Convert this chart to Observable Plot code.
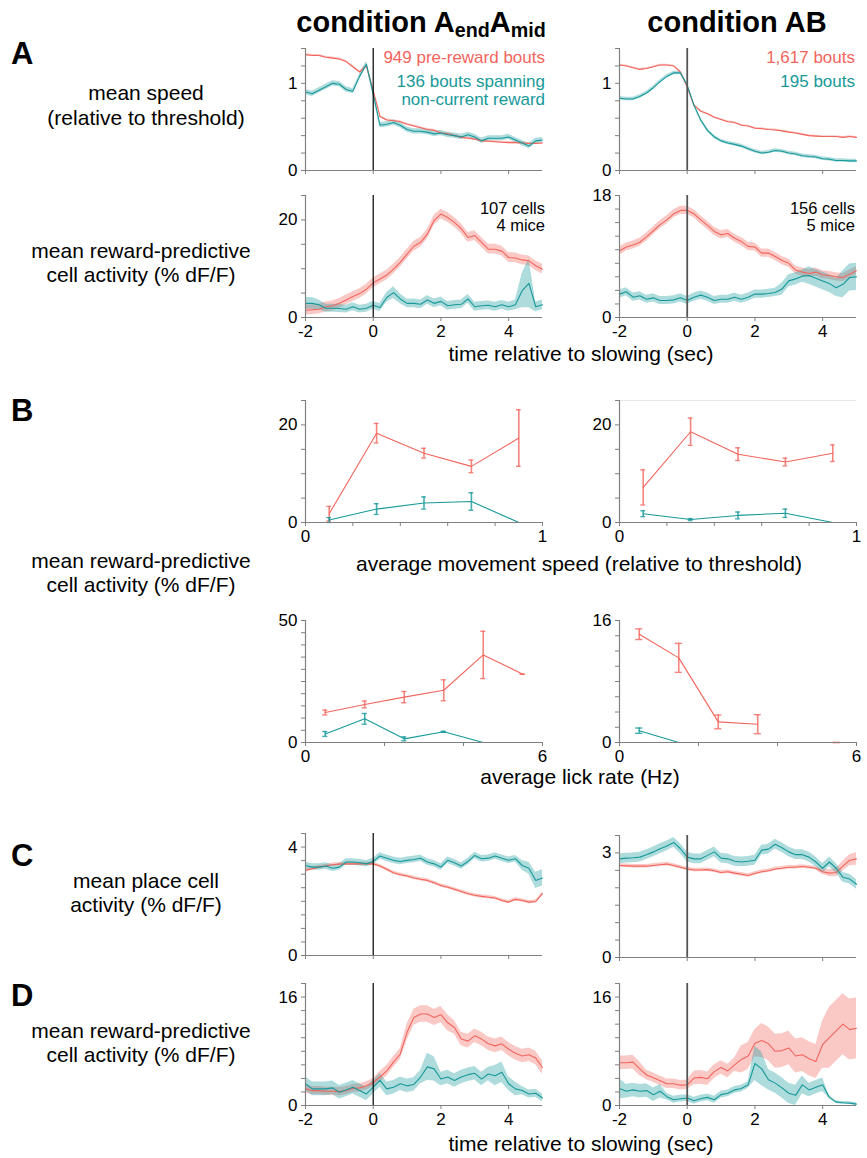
<!DOCTYPE html>
<html><head><meta charset="utf-8">
<script src="https://cdn.jsdelivr.net/npm/d3@7"></script>
<script src="https://cdn.jsdelivr.net/npm/@observablehq/plot@0.6"></script>
<style>
body{margin:0;background:#fff;}
#fig{position:relative;width:867px;height:1158px;font-family:"Liberation Sans",Arial,Helvetica,sans-serif;color:#000;overflow:hidden;background:#fff;}
.t{position:absolute;white-space:nowrap;line-height:1;}
.t sub{font-size:0.68em;vertical-align:-0.3em;line-height:0;}
</style></head><body><div id="fig"></div>
<script>
// ---------- time axis (sec relative to slowing) ----------
const T = [-2,-1.8,-1.6,-1.4,-1.2,-1,-0.8,-0.6,-0.4,-0.2,0,0.2,0.4,0.6,0.8,1,1.2,1.4,1.6,1.8,2,2.2,2.4,2.6,2.8,3,3.2,3.4,3.6,3.8,4,4.2,4.4,4.6,4.8,5];

// ---------- A: mean speed ----------
const A1L_red  = [1.33,1.32,1.32,1.30,1.29,1.28,1.25,1.19,1.13,1.20,0.92,0.62,0.58,0.57,0.56,0.53,0.51,0.49,0.47,0.46,0.43,0.42,0.40,0.38,0.37,0.36,0.34,0.335,0.33,0.325,0.32,0.32,0.315,0.31,0.31,0.315];
const A1L_teal = [0.90,0.88,0.92,0.96,1.00,0.99,0.93,0.91,1.08,1.22,0.88,0.52,0.53,0.55,0.52,0.47,0.45,0.45,0.44,0.42,0.43,0.41,0.40,0.385,0.41,0.385,0.34,0.37,0.37,0.37,0.385,0.35,0.315,0.28,0.34,0.35];
const A1R_red  = [1.21,1.20,1.18,1.16,1.17,1.19,1.21,1.21,1.20,1.13,0.96,0.75,0.68,0.65,0.61,0.585,0.56,0.55,0.52,0.51,0.485,0.48,0.47,0.465,0.455,0.44,0.43,0.415,0.40,0.395,0.39,0.39,0.39,0.38,0.39,0.38];
const A1R_teal = [0.83,0.82,0.82,0.85,0.89,0.95,1.02,1.08,1.12,1.12,0.98,0.75,0.58,0.46,0.385,0.34,0.315,0.30,0.28,0.25,0.22,0.20,0.21,0.23,0.22,0.20,0.19,0.17,0.16,0.155,0.135,0.13,0.115,0.115,0.11,0.11];
const A1L_red_se = 0.012, A1L_teal_se = 0.03, A1R_red_se = 0.01, A1R_teal_se = 0.02;

// ---------- A: reward-predictive cell activity ----------
const A2L_red  = [1.5,1.6,1.7,2.2,2.4,2.9,3.6,4.3,4.9,5.8,7.1,7.9,8.7,9.9,11.3,13.0,14.6,15.4,17.1,19.9,21.2,20.5,19.5,18.2,16.4,16.8,15.4,14.0,14.0,13.6,12.3,12.2,11.8,11.6,10.6,9.9];
const A2L_teal = [2.9,2.9,2.6,1.9,1.9,1.85,1.7,2.2,1.7,1.9,2.5,2.05,4.1,5.1,3.8,2.9,2.9,2.7,3.6,2.9,3.3,2.4,2.6,2.7,3.8,2.2,2.4,2.5,2.2,2.6,2.2,2.6,5.5,7.0,2.2,2.6];
const A2L_red_se = 1.0;
const A2L_teal_se = [1.2,1.2,1.0,0.8,0.8,0.8,0.8,0.8,0.8,0.8,0.8,0.8,1.0,1.2,1.0,0.9,0.9,0.9,0.9,0.9,0.9,0.9,0.9,0.9,0.9,0.9,0.9,0.9,0.9,0.9,0.9,1.0,3.5,5.0,1.0,1.0];
const A2R_red  = [9.8,10.4,10.7,11.1,11.9,12.8,13.7,14.4,15.3,15.8,15.8,15.3,14.4,13.6,12.7,12.2,12.4,11.7,11.2,10.5,10.4,9.5,9.5,9.0,8.4,8.0,7.0,6.7,6.5,6.7,6.3,6.2,6.0,5.9,6.4,6.9];
const A2R_teal = [3.45,3.8,3.0,3.2,2.7,2.9,2.5,2.5,2.6,2.9,2.5,3.0,3.3,3.0,2.5,2.7,2.7,3.0,2.7,3.0,3.45,3.45,3.55,3.7,4.2,5.4,5.7,6.1,6.2,5.8,5.4,5.0,4.4,4.9,5.9,6.0];
const A2R_red_se = 0.6;
const A2R_teal_se = [0.6,0.6,0.6,0.6,0.6,0.6,0.6,0.6,0.6,0.6,0.6,0.6,0.6,0.6,0.6,0.6,0.6,0.6,0.6,0.6,0.6,0.6,0.6,0.6,0.9,0.9,0.9,0.9,1.3,1.3,1.3,1.3,1.3,2.0,2.0,2.0];

// ---------- B: binned activity vs speed / lick rate ----------
const speedBins = [0.1,0.3,0.5,0.7,0.9];
const B1L_red = [1.8,18.3,14.2,11.5,17.3], B1L_red_err = [1.5,2.0,1.0,1.3,5.8];
const B1L_teal = [0.5,2.75,4.0,4.3,0], B1L_teal_err = [0.5,1.1,1.25,1.8,null];
const B1R_red = [7.2,18.6,14.0,12.4,14.2], B1R_red_err = [3.6,2.8,1.3,0.8,1.7];
const B1R_teal = [1.8,0.6,1.45,1.9,0], B1R_teal_err = [0.6,0.2,0.7,0.85,null];
const lickBins = [0.5,1.5,2.5,3.5,4.5,5.5];
const B2L_red = [12.3,15.6,18.6,21.4,35.9,28.0], B2L_red_err = [1.0,1.4,2.3,4.3,9.7,0];
const B2L_teal = [3.5,9.7,1.5,4.4,0,null], B2L_teal_err = [1.0,2.2,0.8,0.2,null,null];
const B2R_red = [14.2,11.1,2.7,2.4,null,0], B2R_red_err = [0.7,1.9,0.9,1.25,null,0];
const B2R_teal = [1.55,0,0,null,null,null], B2R_teal_err = [0.35,null,null,null,null,null];

// ---------- C: place cell activity ----------
const CL_red  = [3.14,3.20,3.26,3.30,3.35,3.37,3.38,3.38,3.38,3.38,3.38,3.30,3.18,3.05,2.98,2.93,2.86,2.81,2.77,2.68,2.58,2.52,2.44,2.36,2.28,2.22,2.18,2.15,2.12,2.03,1.97,2.07,2.03,1.97,1.99,2.28];
const CL_teal = [3.32,3.26,3.26,3.30,3.22,3.26,3.45,3.45,3.42,3.38,3.47,3.67,3.59,3.51,3.47,3.51,3.54,3.59,3.45,3.38,3.26,3.51,3.42,3.30,3.47,3.69,3.57,3.59,3.67,3.59,3.51,3.57,3.32,3.22,2.77,2.86];
const CL_red_se = 0.06;
const CL_teal_se = [0.12,0.12,0.12,0.12,0.12,0.12,0.12,0.12,0.12,0.12,0.12,0.12,0.12,0.12,0.12,0.12,0.12,0.12,0.12,0.12,0.12,0.12,0.12,0.12,0.12,0.12,0.12,0.12,0.12,0.12,0.12,0.12,0.18,0.22,0.3,0.3];
const CR_red  = [2.64,2.63,2.62,2.62,2.62,2.64,2.66,2.68,2.64,2.59,2.54,2.51,2.51,2.52,2.49,2.44,2.46,2.42,2.39,2.35,2.41,2.46,2.49,2.54,2.56,2.59,2.59,2.61,2.59,2.56,2.46,2.42,2.44,2.62,2.79,2.83];
const CR_teal = [2.83,2.85,2.86,2.88,2.95,3.03,3.12,3.20,3.30,3.12,2.88,2.83,2.83,2.93,3.03,2.85,2.83,2.76,2.74,2.76,2.79,3.08,3.11,3.25,3.15,3.03,2.95,2.95,2.88,2.74,2.56,2.74,2.56,2.30,2.25,2.10];
const CR_red_se = [0.05,0.05,0.05,0.05,0.05,0.05,0.05,0.05,0.05,0.05,0.05,0.05,0.05,0.05,0.05,0.05,0.05,0.05,0.05,0.05,0.05,0.05,0.05,0.05,0.05,0.05,0.05,0.05,0.05,0.05,0.08,0.1,0.12,0.14,0.16,0.18];
const CR_teal_se = 0.14;

// ---------- D: reward-predictive cell activity ----------
const DL_red  = [2.45,2.2,2.2,2.1,2.1,2.05,2.2,2.5,2.6,2.9,3.4,4.2,5.1,6.4,7.6,10.8,13.0,13.5,13.5,13.0,13.4,12.2,11.5,9.8,9.5,10.3,9.8,9.1,8.8,9.1,8.3,7.7,7.3,7.5,7.0,5.6];
const DL_teal = [3.2,2.45,2.45,2.45,2.6,1.95,2.3,2.7,2.2,1.7,2.7,3.7,2.45,2.7,3.2,2.9,3.1,4.2,5.7,5.4,3.9,4.2,3.7,4.2,4.55,4.75,3.9,4.65,4.4,4.9,3.2,2.45,2.2,1.7,1.8,1.1];
const DL_red_se = [0.6,0.6,0.6,0.6,0.6,0.6,0.6,0.6,0.6,0.6,0.6,0.8,0.8,0.8,0.8,1.2,1.2,1.2,1.2,1.2,1.2,1.2,1.0,1.0,1.0,1.0,1.0,1.0,1.0,1.0,1.0,1.0,1.0,1.0,1.0,1.0];
const DL_teal_se = [1.0,1.0,1.0,1.0,1.0,1.0,1.0,1.0,1.0,1.0,1.0,1.0,1.0,1.0,1.0,1.0,1.0,1.0,2.0,1.8,1.0,1.0,1.0,1.0,1.0,1.0,1.0,1.0,1.5,1.5,1.0,1.0,0.6,0.6,0.6,0.6];
const DR_red  = [6.3,6.3,6.4,5.4,4.5,4.1,3.65,3.2,3.2,3.0,3.05,4.05,4.15,3.95,5.0,5.6,5.1,6.0,6.8,7.3,9.2,9.6,9.1,8.0,8.1,8.5,7.3,7.5,6.9,6.5,9.0,10.0,11.0,12.0,11.2,11.4];
const DR_teal = [2.5,2.1,2.3,2.1,2.2,1.6,2.1,1.3,0.85,1.0,1.1,0.7,1.0,1.2,0.85,1.6,1.8,2.3,2.5,3.05,6.2,5.4,3.8,3.3,2.6,1.8,1.5,3.05,2.3,2.7,3.05,1.2,0.5,0.4,0.35,0.2];
const DR_red_se = [1.0,1.0,1.0,1.0,0.7,0.7,0.7,0.7,0.7,0.7,0.7,1.0,1.0,1.0,1.0,1.0,1.0,1.0,2.0,2.0,2.0,2.5,2.5,2.5,2.5,2.5,2.5,2.5,2.5,2.5,3.5,4.5,4.5,4.5,4.5,4.5];
const DR_teal_se = [1.5,1.0,1.0,1.0,1.0,1.0,1.0,0.5,0.5,0.5,0.5,0.5,0.5,0.5,0.5,0.5,0.5,0.5,0.5,0.5,2.5,2.5,1.5,1.5,1.5,1.5,1.5,1.3,1.0,1.0,1.0,0.2,0.2,0.2,0.2,0.2];

// ---------- ticks ----------
const timeTicks = [-2,0,2,4], timeLabels = [-2,0,2,4];
const speedTicks = [0,0.2,0.4,0.6,0.8,1], speedLabels = [0,1];
const lickTicks = [0,2,4,6], lickLabels = [0,6];
const ticksA1 = [0,0.2,0.4,0.6,0.8,1,1.2,1.4], labelsA1 = [0,1];
const ticks5to25 = [0,5,10,15,20,25], labels0_20 = [0,20];
const ticks2to18 = [0,2,4,6,8,10,12,14,16,18], labels0_18 = [0,18], labels0_16 = [0,16];
const ticks5to50 = [0,5,10,15,20,25,30,35,40,45,50], labels0_50 = [0,50];
const ticks2to16 = [0,2,4,6,8,10,12,14,16];
const ticksCL = [0,0.5,1,1.5,2,2.5,3,3.5,4,4.5], labelsCL = [0,4];
const ticksCR = [0,0.5,1,1.5,2,2.5,3,3.5], labelsCR = [0,3];

// ---------- styling ----------
const RED = "#f2655d", TEAL = "#17999a", AX = "#808080";
const FONT = '"Liberation Sans", Arial, Helvetica, sans-serif';
const PW = 237, PH = 122, ML = 42, MR = 14, MT = 10, MB = 30;
const fig = document.getElementById("fig");

function series(t, v, e) {
  return t.map((x, i) => {
    const s = Array.isArray(e) ? e[i] : e;
    return {t: x, v: v[i], lo: v[i] - s, hi: v[i] + s};
  });
}
function pts(x, v, e) {
  return x.map((d, i) => ({x: d, v: v[i], e: e[i]}));
}
const fmt = labels => d => labels.includes(d) ? String(d) : "";

function makePlot(cfg, marks, left, top) {
  const svg = Plot.plot({
    width: ML + PW + MR, height: MT + PH + MB,
    marginLeft: ML, marginRight: MR, marginTop: MT, marginBottom: MB,
    x: {domain: cfg.xd}, y: {domain: cfg.yd},
    style: {fontSize: "17px", fontFamily: FONT, background: "none", overflow: "visible", color: "#000"},
    marks: [
      ...marks,
      Plot.ruleY([cfg.yd[0]], {stroke: AX, strokeWidth: 1.2}),
      Plot.ruleX([cfg.xd[0]], {stroke: AX, strokeWidth: 1.2}),
      Plot.axisX({ticks: cfg.xt, tickFormat: fmt(cfg.xl), tickSize: 4, tickPadding: 3, stroke: AX, fill: "#000", label: null}),
      Plot.axisY({ticks: cfg.yt, tickFormat: fmt(cfg.yl), tickSize: 4, tickPadding: 4, stroke: AX, fill: "#000", label: null})
    ]
  });
  svg.style.position = "absolute";
  svg.style.left = (left - ML) + "px";
  svg.style.top = (top - MT) + "px";
  svg.style.maxWidth = "none";
  fig.appendChild(svg);
}

function tsPanel(cfg, red, teal, left, top, vcol) {
  const marks = [
    Plot.areaY(red, {x: "t", y1: "lo", y2: "hi", fill: RED, fillOpacity: 0.35}),
    Plot.areaY(teal, {x: "t", y1: "lo", y2: "hi", fill: TEAL, fillOpacity: 0.35}),
    Plot.lineY(red, {x: "t", y: "v", stroke: RED, strokeWidth: 1.1}),
    Plot.lineY(teal, {x: "t", y: "v", stroke: TEAL, strokeWidth: 1.1}),
    Plot.ruleX([0], {stroke: vcol, strokeWidth: vcol === "#000" ? 1.2 : 1.8})
  ];
  makePlot(cfg, marks, left, top);
}

function errPanel(cfg, red, teal, cw, left, top, extra = []) {
  const m = [];
  for (const [data, col] of [[red, RED], [teal, TEAL]]) {
    const eb = data.filter(d => d.e != null && d.v != null);
    m.push(Plot.lineY(data, {x: "x", y: "v", stroke: col, strokeWidth: 1.1}));
    m.push(Plot.ruleX(eb, {x: "x", y1: d => d.v - d.e, y2: d => d.v + d.e, stroke: col, strokeWidth: 1.6, strokeOpacity: 0.8}));
    m.push(Plot.ruleY(eb, {y: d => d.v - d.e, x1: d => d.x - cw, x2: d => d.x + cw, stroke: col, strokeWidth: 1.4, strokeOpacity: 0.8}));
    m.push(Plot.ruleY(eb, {y: d => d.v + d.e, x1: d => d.x - cw, x2: d => d.x + cw, stroke: col, strokeWidth: 1.4, strokeOpacity: 0.8}));
  }
  makePlot(cfg, [...extra, ...m], left, top);
}

const XL = 305, XR = 619;
const tCfg = (yd, yt, yl, lab) => ({xd: [-2, 5], xt: timeTicks, xl: lab ? timeLabels : [], yd, yt, yl});

// A
tsPanel(tCfg([0, 1.4], ticksA1, labelsA1, false), series(T, A1L_red, A1L_red_se), series(T, A1L_teal, A1L_teal_se), XL, 48.3, "#000");
tsPanel(tCfg([0, 1.4], ticksA1, labelsA1, false), series(T, A1R_red, A1R_red_se), series(T, A1R_teal, A1R_teal_se), XR, 48.3, "#555");
tsPanel(tCfg([0, 25], ticks5to25, labels0_20, true), series(T, A2L_red, A2L_red_se), series(T, A2L_teal, A2L_teal_se), XL, 195, "#000");
tsPanel(tCfg([0, 18], ticks2to18, labels0_18, true), series(T, A2R_red, A2R_red_se), series(T, A2R_teal, A2R_teal_se), XR, 195, "#555");

// B
const b1Cfg = {xd: [0, 1], xt: speedTicks, xl: speedLabels, yd: [0, 25], yt: ticks5to25, yl: labels0_20};
errPanel(b1Cfg, pts(speedBins, B1L_red, B1L_red_err), pts(speedBins, B1L_teal, B1L_teal_err), 0.01, XL, 400);
errPanel(b1Cfg, pts(speedBins, B1R_red, B1R_red_err), pts(speedBins, B1R_teal, B1R_teal_err), 0.01, XR, 400,
  [Plot.ruleY([25], {stroke: "#e8e8e8"})]);
errPanel({xd: [0, 6], xt: lickTicks, xl: lickLabels, yd: [0, 50], yt: ticks5to50, yl: labels0_50},
  pts(lickBins, B2L_red, B2L_red_err), pts(lickBins, B2L_teal, B2L_teal_err), 0.065, XL, 620);
errPanel({xd: [0, 6], xt: lickTicks, xl: lickLabels, yd: [0, 16], yt: ticks2to16, yl: labels0_16},
  pts(lickBins, B2R_red, B2R_red_err), pts(lickBins, B2R_teal, B2R_teal_err), 0.09, XR, 620);

// C
tsPanel(tCfg([0, 4.5], ticksCL, labelsCL, false), series(T, CL_red, CL_red_se), series(T, CL_teal, CL_teal_se), XL, 833, "#000");
tsPanel(tCfg([0, 3.5], ticksCR, labelsCR, false), series(T, CR_red, CR_red_se), series(T, CR_teal, CR_teal_se), XR, 835, "#555");

// D
tsPanel(tCfg([0, 18], ticks2to18, labels0_16, true), series(T, DL_red, DL_red_se), series(T, DL_teal, DL_teal_se), XL, 983, "#000");
tsPanel(tCfg([0, 18], ticks2to18, labels0_16, true), series(T, DR_red, DR_red_se), series(T, DR_teal, DR_teal_se), XR, 983, "#555");

// ---------- text ----------
function txt(x, y, html, {anchor = "middle", size = 21, weight = "normal", color = "#000"} = {}) {
  const d = document.createElement("div");
  d.className = "t";
  d.innerHTML = html;
  const tx = anchor === "middle" ? "-50%" : anchor === "end" ? "-100%" : "0";
  d.style.cssText += `left:${x}px;top:${y}px;transform:translate(${tx},-50%);font-size:${size}px;font-weight:${weight};color:${color};`;
  fig.appendChild(d);
}
txt(421, 22, "condition A<sub>end</sub>A<sub>mid</sub>", {size: 29, weight: "bold"});
txt(737, 22, "condition AB", {size: 29, weight: "bold"});
txt(11, 53, "A", {anchor: "start", size: 31, weight: "bold"});
txt(11, 410, "B", {anchor: "start", size: 31, weight: "bold"});
txt(11, 855, "C", {anchor: "start", size: 31, weight: "bold"});
txt(11, 995, "D", {anchor: "start", size: 31, weight: "bold"});

txt(146, 92, "mean speed");
txt(146, 117, "(relative to threshold)");
txt(141, 250, "mean reward-predictive");
txt(141, 274, "cell activity (% dF/F)");
txt(141, 560, "mean reward-predictive");
txt(141, 584, "cell activity (% dF/F)");
txt(146, 880, "mean place cell");
txt(146, 904, "activity (% dF/F)");
txt(141, 1030, "mean reward-predictive");
txt(141, 1054, "cell activity (% dF/F)");

txt(581, 353, "time relative to slowing (sec)");
txt(579, 563, "average movement speed (relative to threshold)");
txt(580, 776, "average lick rate (Hz)");
txt(581, 1143, "time relative to slowing (sec)");

txt(545, 57, "949 pre-reward bouts", {anchor: "end", size: 17, color: RED});
txt(545, 81, "136 bouts spanning", {anchor: "end", size: 17, color: TEAL});
txt(545, 99, "non-current reward", {anchor: "end", size: 17, color: TEAL});
txt(855, 57, "1,617 bouts", {anchor: "end", size: 17, color: RED});
txt(855, 81, "195 bouts", {anchor: "end", size: 17, color: TEAL});
txt(545, 207.5, "107 cells", {anchor: "end", size: 16.5});
txt(545, 225, "4 mice", {anchor: "end", size: 16.5});
txt(855, 207.5, "156 cells", {anchor: "end", size: 16.5});
txt(855, 225, "5 mice", {anchor: "end", size: 16.5});
</script></body></html>
